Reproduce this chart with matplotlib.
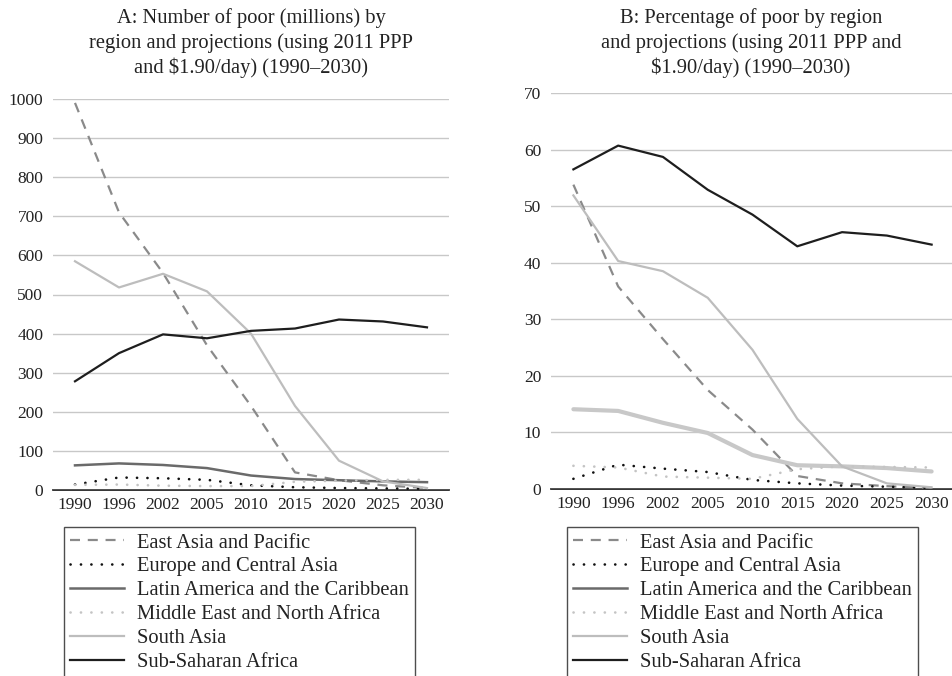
import matplotlib
matplotlib.use("Agg")
import matplotlib.pyplot as plt
from matplotlib.lines import Line2D

plt.rcParams["font.family"] = ["Liberation Serif", "DejaVu Serif"]

# data
years = ["1990", "1996", "2002", "2005", "2010", "2015", "2020", "2025", "2030"]
regions = ["East Asia and Pacific", "Europe and Central Asia",
           "Latin America and the Caribbean", "Middle East and North Africa",
           "South Asia", "Sub-Saharan Africa"]

# A: number of poor (millions)
num_eap = [990, 710, 555, 370, 215, 45, 25, 12, 5]
num_eca = [14, 32, 30, 26, 12, 7, 5, 4, 3]
num_lac = [63, 68, 64, 56, 37, 28, 25, 22, 20]
num_mena = [13, 14, 11, 10, 10, 21, 24, 26, 26]
num_sa = [585, 518, 553, 508, 400, 215, 75, 22, 5]
num_ssa = [278, 350, 398, 388, 407, 413, 436, 431, 416]

# B: percentage of poor
pct_eap = [53.8, 35.8, 26.5, 17.5, 10.5, 2.3, 1.0, 0.5, 0.2]
pct_eca = [1.8, 4.3, 3.6, 3.0, 1.6, 1.0, 0.6, 0.4, 0.2]
pct_lac = [14.1, 13.8, 11.7, 9.9, 6.0, 4.2, 4.0, 3.7, 3.1]
pct_mena = [4.1, 3.8, 2.2, 2.0, 1.8, 3.5, 4.0, 3.9, 3.8]
pct_sa = [51.9, 40.3, 38.5, 33.8, 24.6, 12.4, 4.0, 1.0, 0.3]
pct_ssa = [56.5, 60.7, 58.7, 52.9, 48.5, 42.9, 45.4, 44.8, 43.2]

W, H = 952, 676
fig = plt.figure(figsize=(W / 100, H / 100), dpi=100)


def px_axes(left, top, right, bottom):
    return fig.add_axes([left / W, 1 - bottom / H, (right - left) / W, (bottom - top) / H])


styles = [
    dict(color="#8a8a8a", lw=1.6, ls=(0, (4.5, 3.5))),
    dict(color="#111111", lw=1.9, ls=(0, (0.05, 3.9)), dash_capstyle="round"),
    dict(color="#6a6a6a", lw=1.8, ls="-"),
    dict(color="#c4c4c4", lw=1.9, ls=(0, (0.05, 3.9)), dash_capstyle="round"),
    dict(color="#bdbdbd", lw=1.6, ls="-"),
    dict(color="#1e1e1e", lw=1.6, ls="-"),
]


def draw(ax, series, ymax, ystep, lac_style=None):
    x = range(len(years))
    for i, (name, vals) in enumerate(zip(regions, series)):
        st = dict(styles[i])
        if i == 2 and lac_style is not None:
            st = lac_style
        ax.plot([k + 0.5 for k in x], vals, label=name, **st)
    ax.set_xlim(0, len(years))
    ax.set_ylim(0, ymax)
    ax.set_yticks(range(0, ymax + 1, ystep))
    ax.set_xticks([k + 0.5 for k in x])
    ax.set_xticklabels(years)
    ax.grid(axis="y", color="#c8c8c8", lw=1.0)
    ax.set_axisbelow(True)
    for s in ["top", "right", "left"]:
        ax.spines[s].set_visible(False)
    ax.spines["bottom"].set_color("#111111")
    ax.spines["bottom"].set_linewidth(1.2)
    ax.spines["bottom"].set_zorder(0.5)
    ax.tick_params(length=0, labelsize=12.5, colors="#222222")
    ax.tick_params(axis="y", pad=7)
    ax.tick_params(axis="x", pad=5)


axA = px_axes(53, 99, 449, 490)
draw(axA, [num_eap, num_eca, num_lac, num_mena, num_sa, num_ssa], 1000, 100)

axB = px_axes(551, 93, 954, 489)
draw(axB, [pct_eap, pct_eca, pct_lac, pct_mena, pct_sa, pct_ssa], 70, 10,
     lac_style=dict(color="#c8c8c8", lw=3.0, ls="-", solid_capstyle="round"))

fig.text(251 / W, 1 - 8 / H,
         "A: Number of poor (millions) by\nregion and projections (using 2011 PPP\nand $1.90/day) (1990\u20132030)",
         ha="center", va="top", fontsize=14.8, linespacing=1.33, color="#222222")
fig.text(751 / W, 1 - 8 / H,
         "B: Percentage of poor by region\nand projections (using 2011 PPP and\n$1.90/day) (1990\u20132030)",
         ha="center", va="top", fontsize=14.8, linespacing=1.33, color="#222222")

# legends use the plain style for every region
handles = [Line2D([], [], **styles[i]) for i in range(len(regions))]
for ax, left in [(axA, 64), (axB, 567)]:
    leg = fig.legend(handles, regions, loc="upper left",
                     bbox_to_anchor=(left / W, 1 - 527 / H),
                     frameon=True, fancybox=False, edgecolor="#222222",
                     fontsize=14.8, handlelength=2.6, handletextpad=0.65,
                     labelspacing=0.22, borderpad=0.3, borderaxespad=0)
    leg.get_frame().set_linewidth(1.0)
    for t in leg.get_texts():
        t.set_color("#222222")

fig.savefig("out.png", dpi=100)
